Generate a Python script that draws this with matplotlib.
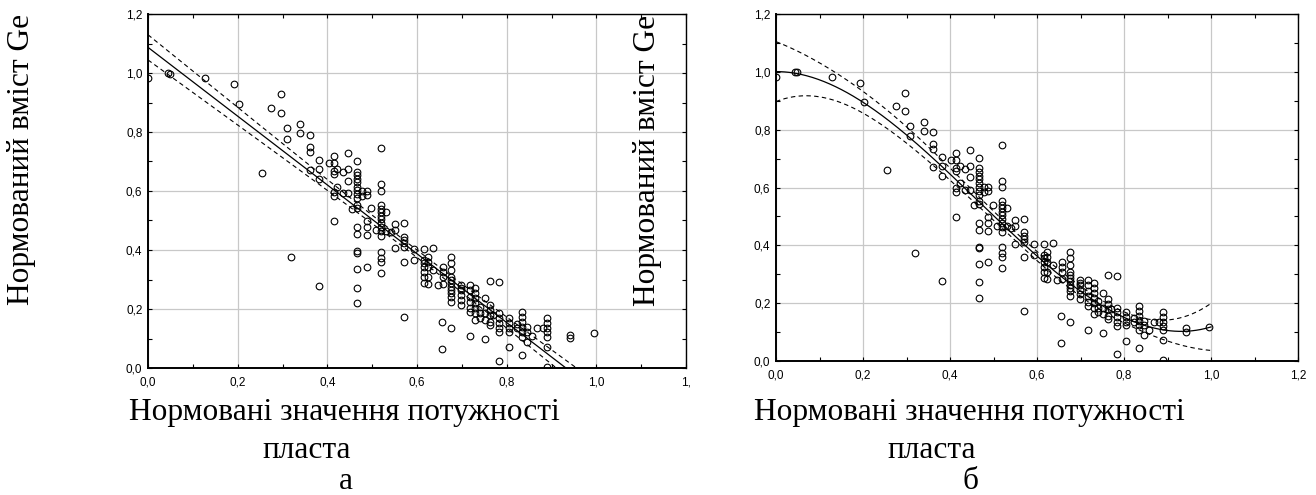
import numpy as np
import matplotlib
matplotlib.use("Agg")
import matplotlib.pyplot as plt
from matplotlib.ticker import MultipleLocator, FixedLocator, FixedFormatter

# ---- data (normalised bed thickness vs normalised Ge content) ----
pts = [
    (0.0, 0.982), (0.044, 1.0), (0.048, 0.998), (0.128, 0.982), (0.192, 0.963), (0.202, 0.896),
    (0.255, 0.66), (0.275, 0.883), (0.297, 0.928), (0.297, 0.864), (0.309, 0.814), (0.309, 0.777),
    (0.319, 0.375), (0.34, 0.826), (0.34, 0.797), (0.361, 0.791), (0.361, 0.749), (0.361, 0.733),
    (0.361, 0.672), (0.382, 0.704), (0.382, 0.675), (0.382, 0.64), (0.382, 0.278),
    (0.403, 0.695), (0.414, 0.719), (0.414, 0.694), (0.414, 0.669), (0.414, 0.657), (0.414, 0.598),
    (0.414, 0.584), (0.414, 0.499), (0.422, 0.675), (0.422, 0.615), (0.434, 0.663), (0.434, 0.592),
    (0.445, 0.73), (0.445, 0.675), (0.445, 0.635), (0.445, 0.592), (0.456, 0.539),
    (0.467, 0.702), (0.467, 0.666), (0.467, 0.654), (0.467, 0.641), (0.467, 0.629), (0.467, 0.614),
    (0.467, 0.603), (0.467, 0.589), (0.467, 0.575), (0.467, 0.553), (0.467, 0.544), (0.467, 0.477),
    (0.467, 0.453), (0.467, 0.395), (0.467, 0.39), (0.467, 0.334), (0.467, 0.272), (0.467, 0.219),
    (0.478, 0.601), (0.478, 0.584), (0.488, 0.601), (0.488, 0.587), (0.488, 0.499), (0.488, 0.477),
    (0.488, 0.451), (0.488, 0.343), (0.498, 0.541), (0.509, 0.468),
    (0.52, 0.747), (0.52, 0.623), (0.52, 0.601), (0.52, 0.553), (0.52, 0.539), (0.52, 0.528),
    (0.52, 0.515), (0.52, 0.504), (0.52, 0.49), (0.52, 0.477), (0.52, 0.464), (0.52, 0.447),
    (0.52, 0.394), (0.52, 0.372), (0.52, 0.36), (0.52, 0.321),
    (0.53, 0.53), (0.53, 0.466), (0.541, 0.46), (0.55, 0.487), (0.55, 0.468), (0.55, 0.406),
    (0.57, 0.49), (0.57, 0.445), (0.57, 0.434), (0.57, 0.423), (0.57, 0.411), (0.57, 0.358), (0.57, 0.172),
    (0.593, 0.403), (0.593, 0.366), (0.615, 0.403), (0.615, 0.366), (0.615, 0.355), (0.615, 0.343),
    (0.615, 0.326), (0.615, 0.309), (0.615, 0.287),
    (0.624, 0.377), (0.624, 0.36), (0.624, 0.341), (0.624, 0.309), (0.624, 0.285),
    (0.636, 0.408), (0.636, 0.331), (0.646, 0.281),
    (0.657, 0.341), (0.657, 0.326), (0.657, 0.309), (0.657, 0.285), (0.656, 0.156), (0.656, 0.063),
    (0.676, 0.377), (0.676, 0.355), (0.676, 0.332), (0.676, 0.309), (0.676, 0.298), (0.676, 0.287),
    (0.676, 0.276), (0.676, 0.264), (0.676, 0.253), (0.676, 0.242), (0.676, 0.225), (0.676, 0.134),
    (0.698, 0.28), (0.698, 0.27), (0.698, 0.264), (0.698, 0.247), (0.698, 0.231), (0.698, 0.214),
    (0.718, 0.281), (0.718, 0.264), (0.718, 0.242), (0.718, 0.225), (0.718, 0.204), (0.718, 0.189), (0.718, 0.108),
    (0.73, 0.27), (0.73, 0.253), (0.73, 0.236), (0.73, 0.219), (0.73, 0.202), (0.73, 0.185), (0.73, 0.163),
    (0.741, 0.208), (0.741, 0.185), (0.741, 0.168),
    (0.752, 0.236), (0.752, 0.185), (0.752, 0.163), (0.752, 0.097),
    (0.763, 0.296), (0.763, 0.214), (0.763, 0.197), (0.763, 0.18), (0.763, 0.157), (0.763, 0.146),
    (0.77, 0.18),
    (0.783, 0.293), (0.783, 0.185), (0.783, 0.168), (0.783, 0.152), (0.783, 0.135), (0.783, 0.121), (0.783, 0.025),
    (0.805, 0.168), (0.805, 0.152), (0.805, 0.135), (0.805, 0.123), (0.805, 0.07),
    (0.822, 0.149), (0.822, 0.135),
    (0.835, 0.191), (0.835, 0.174), (0.835, 0.157), (0.835, 0.14), (0.835, 0.123), (0.835, 0.106), (0.835, 0.044),
    (0.846, 0.14), (0.846, 0.123), (0.846, 0.089),
    (0.857, 0.108), (0.868, 0.135), (0.88, 0.135),
    (0.889, 0.168), (0.889, 0.152), (0.889, 0.135), (0.889, 0.121), (0.889, 0.106), (0.889, 0.072), (0.889, 0.003),
    (0.942, 0.113), (0.942, 0.102), (0.995, 0.117),
]
thickness = np.array([p[0] for p in pts])
ge_content = np.array([p[1] for p in pts])

x_ticks = [0.0, 0.2, 0.4, 0.6, 0.8, 1.0, 1.2]
x_labels_a = ["0,0", "0,2", "0,4", "0,6", "0,8", "1,0", "1,"]
x_labels_b = ["0,0", "0,2", "0,4", "0,6", "0,8", "1,0", "1,2"]
y_ticks = [0.0, 0.2, 0.4, 0.6, 0.8, 1.0, 1.2]
y_labels = ["0,0", "0,2", "0,4", "0,6", "0,8", "1,0", "1,2"]

ylabel_text = "Нормований вміст Ge"
xlabel_line1 = "Нормовані значення потужності"
xlabel_line2 = "пласта"
panel_letters = ["а", "б"]

SERIF = ["Liberation Serif", "DejaVu Serif"]
SANS = ["Liberation Sans", "DejaVu Sans"]


def fit_with_ci(x, y, deg, xg, t=1.97):
    X = np.vander(x, deg + 1)
    coef, *_ = np.linalg.lstsq(X, y, rcond=None)
    resid = y - X @ coef
    s2 = resid @ resid / (len(x) - deg - 1)
    cov = s2 * np.linalg.inv(X.T @ X)
    G = np.vander(xg, deg + 1)
    yg = G @ coef
    se = np.sqrt(np.einsum("ij,jk,ik->i", G, cov, G))
    return yg, yg - t * se, yg + t * se


W, H = 1316, 495
fig = plt.figure(figsize=(W / 100, H / 100), dpi=100)
fig.patch.set_facecolor("white")

axA = fig.add_axes([148 / W, 1 - 368 / H, (686 - 148) / W, (368 - 14) / H])
axB = fig.add_axes([776 / W, 1 - 361 / H, (1298 - 776) / W, (361 - 14) / H])

xg = np.linspace(0.0, 1.0, 300)
fits = [fit_with_ci(thickness, ge_content, 1, xg), fit_with_ci(thickness, ge_content, 3, xg)]

for ax, xl, (yf, lo, hi) in zip([axA, axB], [x_labels_a, x_labels_b], fits):
    ax.set_xlim(0, 1.2)
    ax.set_ylim(0, 1.2)
    ax.grid(True, color="#c8c8c8", lw=0.9)
    ax.set_axisbelow(True)
    ax.plot(thickness, ge_content, "o", ms=4.8, mfc="none", mec="black", mew=0.8, zorder=3)
    ax.plot(xg, yf, "-", color="black", lw=0.9, zorder=4)
    ax.plot(xg, lo, "--", color="black", lw=0.8, dashes=(4, 3), zorder=4)
    ax.plot(xg, hi, "--", color="black", lw=0.8, dashes=(4, 3), zorder=4)
    ax.xaxis.set_major_locator(FixedLocator(x_ticks))
    ax.xaxis.set_major_formatter(FixedFormatter(xl))
    ax.yaxis.set_major_locator(FixedLocator(y_ticks))
    ax.yaxis.set_major_formatter(FixedFormatter(y_labels))
    ax.xaxis.set_minor_locator(MultipleLocator(0.1))
    ax.yaxis.set_minor_locator(MultipleLocator(0.1))
    ax.tick_params(which="both", direction="in", top=True, right=True, length=3, width=0.8)
    ax.tick_params(axis="x", which="major", pad=6, labelsize=8.5)
    ax.tick_params(axis="y", which="major", pad=4, labelsize=8.5)
    for lab in ax.get_xticklabels() + ax.get_yticklabels():
        lab.set_fontfamily(SANS)
    for side in ["left", "bottom"]:
        ax.spines[side].set_linewidth(1.4)
    for side in ["top", "right"]:
        ax.spines[side].set_linewidth(1.0)

fs = 22.6
# y labels
fig.text(22 / W, 1 - 159 / H, ylabel_text, rotation=90, ha="center", va="center",
         fontsize=fs, family=SERIF)
fig.text(648 / W, 1 - 160 / H, ylabel_text, rotation=90, ha="center", va="center",
         fontsize=fs, family=SERIF)

# x labels
for dx, letter in zip([0, 625], panel_letters):
    fig.text((344 + dx) / W, 1 - 420 / H, xlabel_line1, ha="center", va="baseline",
             fontsize=fs, family=SERIF)
    fig.text((307 + dx) / W, 1 - 458 / H, xlabel_line2, ha="center", va="baseline",
             fontsize=fs, family=SERIF)
    fig.text((346 + dx) / W, 1 - 489 / H, letter, ha="center", va="baseline",
             fontsize=fs, family=SERIF)

fig.savefig("out.png", dpi=100, facecolor="white")
